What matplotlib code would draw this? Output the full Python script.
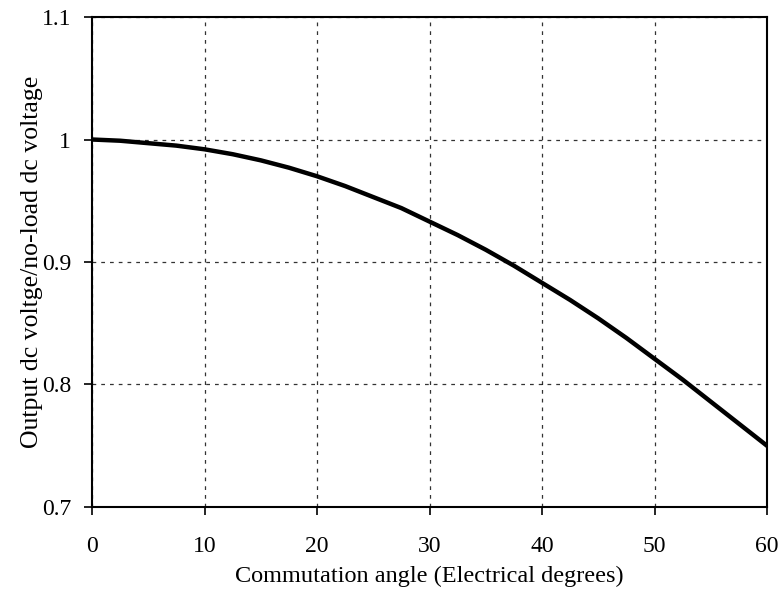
import matplotlib
matplotlib.use("Agg")
import matplotlib.pyplot as plt

# Commutation angle (electrical degrees) and normalised dc output voltage
angle = [0, 2.5, 5, 7.5, 10, 12.5, 15, 17.5, 20, 22.5, 25, 27.5, 30,
         32.5, 35, 37.5, 40, 42.5, 45, 47.5, 50, 52.5, 55, 57.5, 60]
voltage_ratio = [1.000, 0.999, 0.997, 0.995, 0.992, 0.988, 0.983, 0.977,
                 0.970, 0.962, 0.953, 0.944, 0.933, 0.922, 0.910, 0.897,
                 0.883, 0.869, 0.854, 0.838, 0.821, 0.804, 0.786, 0.768,
                 0.750]

x_ticks = [0, 10, 20, 30, 40, 50, 60]
y_ticks = [0.7, 0.8, 0.9, 1.0, 1.1]
y_tick_labels = ["0.7", "0.8", "0.9", "1", "1.1"]

plt.rcParams["font.family"] = ["Liberation Serif", "DejaVu Serif"]

fig = plt.figure(figsize=(7.81, 6.08), dpi=100)
ax = fig.add_axes([92 / 781, 1 - 507 / 608, (767 - 92) / 781, (507 - 17) / 608])

ax.plot(angle, voltage_ratio, color="black", linewidth=3.2, zorder=3,
        solid_joinstyle="round")

ax.set_xlim(0, 60)
ax.set_ylim(0.7, 1.1)
ax.set_xticks(x_ticks)
ax.set_yticks(y_ticks)
ax.set_yticklabels(y_tick_labels)

ax.grid(True, color="black", linestyle=(0, (3, 4)), linewidth=0.9, alpha=0.8)
for s in ax.spines.values():
    s.set_linewidth(1.5)
    s.set_color("black")

ax.tick_params(axis="both", direction="out", length=6, width=1.2, labelsize=17)
ax.tick_params(axis="x", pad=15)
ax.tick_params(axis="y", pad=9)

ax.set_xlabel("Commutation angle (Electrical degrees)", fontsize=17.5, labelpad=6)
ax.set_ylabel("Output dc voltge/no-load dc voltage", fontsize=18.5, labelpad=-1)

fig.savefig("out.png", dpi=100)
